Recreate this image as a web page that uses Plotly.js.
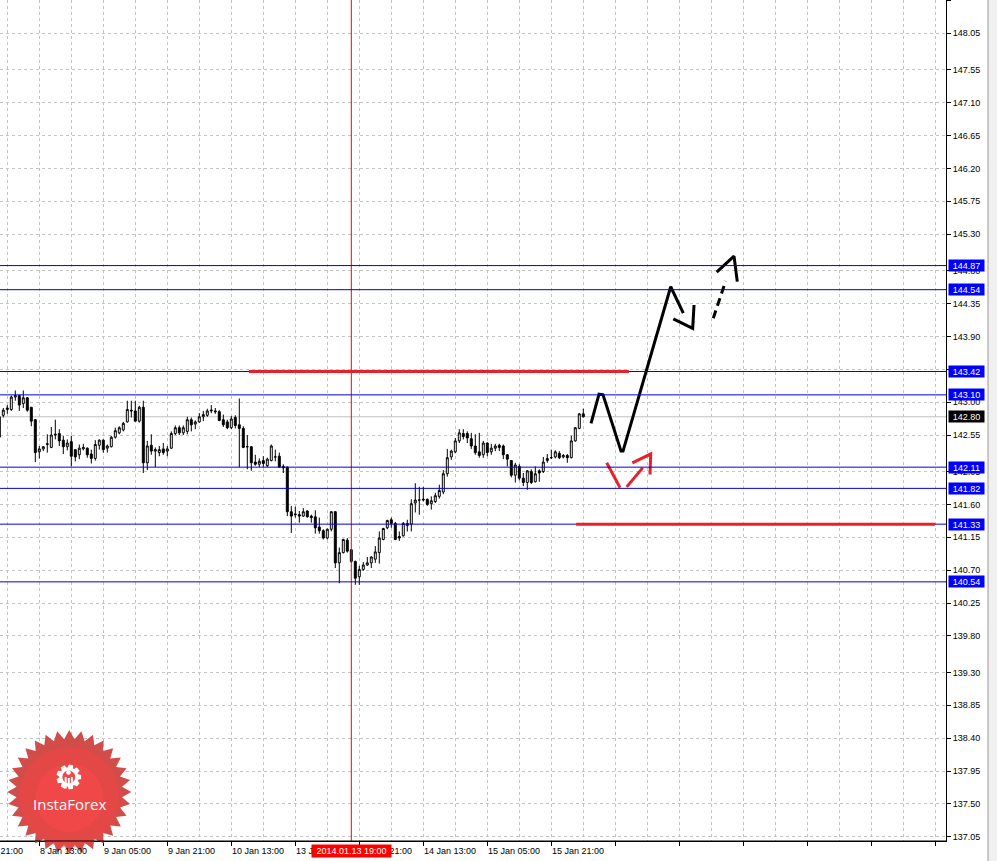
<!DOCTYPE html>
<html><head><meta charset="utf-8">
<script src="https://cdn.plot.ly/plotly-3.0.1.min.js"></script>
<style>html,body{margin:0;padding:0;background:#fff;}#chart{width:997px;height:861px;}</style>
</head><body><div id="chart"></div>
<script>
// ---- hourly candles (bar index 0 = 8 Jan 03:00) ----
const openP = [142.80,142.82,142.90,142.90,143.07,143.09,142.98,143.06,142.93,142.76,
142.32,142.36,142.42,142.38,142.55,142.57,142.48,142.39,142.46,142.35,
142.28,142.36,142.37,142.29,142.23,142.41,142.48,142.37,142.39,142.52,
142.58,142.62,142.73,142.89,142.88,142.74,142.93,142.17,142.41,142.33,
142.31,142.36,142.33,142.37,142.57,142.65,142.58,142.60,142.76,142.70,
142.73,142.80,142.82,142.88,142.88,142.87,142.76,142.73,142.65,142.79,
142.69,142.64,142.39,142.39,142.18,142.15,142.20,142.13,142.20,142.25,
142.26,142.12,142.11,141.50,141.47,141.46,141.44,141.51,141.44,141.43,
141.29,141.24,141.14,141.26,141.50,140.80,140.94,141.11,140.98,140.82,
140.61,140.71,140.77,140.80,140.85,140.94,141.12,141.28,141.39,141.34,
141.16,141.17,141.31,141.33,141.62,141.66,141.66,141.67,141.61,141.64,
141.71,141.77,142.02,142.25,142.32,142.47,142.57,142.57,142.50,142.40,
142.32,142.28,142.44,142.32,142.37,142.41,142.40,142.28,142.20,142.00,
142.12,141.96,141.90,142.05,141.91,142.06,142.05,142.20,142.24,142.25,
142.30,142.25,142.27,142.24,142.47,142.64,142.84];
const highP = [142.83,142.92,142.96,143.09,143.16,143.10,143.16,143.07,142.93,142.77,
142.40,142.40,142.56,142.66,142.76,142.63,142.54,142.49,142.54,142.35,
142.42,142.43,142.38,142.35,142.48,142.49,142.49,142.42,142.54,142.65,
142.67,142.73,143.02,143.02,143.02,142.95,143.02,142.47,142.56,142.38,
142.40,142.44,142.40,142.60,142.68,142.68,142.68,142.80,142.79,142.75,
142.85,142.88,142.91,142.96,142.92,142.89,142.83,142.76,142.81,142.82,
143.05,142.67,142.55,142.40,142.28,142.23,142.26,142.24,142.42,142.35,
142.31,142.15,142.12,141.58,141.57,141.51,141.55,141.52,141.46,141.52,
141.42,141.26,141.27,141.51,141.51,141.01,141.13,141.14,140.99,140.83,
140.76,140.81,140.88,140.89,141.03,141.23,141.28,141.39,141.42,141.36,
141.23,141.36,141.39,141.67,141.89,141.84,141.84,141.68,141.71,141.76,
141.87,142.07,142.36,142.35,142.51,142.63,142.63,142.60,142.58,142.56,
142.58,142.47,142.45,142.43,142.43,142.43,142.42,142.29,142.20,142.17,
142.15,142.03,142.07,142.08,142.12,142.08,142.25,142.29,142.35,142.34,
142.33,142.29,142.29,142.54,142.66,142.85,142.91];
const lowP = [142.49,142.79,142.84,142.88,143.02,142.88,142.92,142.87,142.67,142.18,
142.23,142.33,142.31,142.37,142.49,142.40,142.29,142.34,142.12,142.19,
142.22,142.34,142.24,142.16,142.20,142.35,142.31,142.31,142.38,142.50,
142.56,142.60,142.72,142.79,142.74,142.72,142.03,142.07,142.28,142.11,
142.26,142.28,142.26,142.36,142.55,142.55,142.55,142.56,142.60,142.63,
142.72,142.74,142.80,142.85,142.84,142.74,142.66,142.63,142.63,142.64,
142.11,142.37,142.08,142.06,142.13,142.11,142.11,142.11,142.19,142.19,
142.10,142.03,141.44,141.21,141.42,141.35,141.43,141.42,141.35,141.20,
141.20,141.12,141.12,141.23,140.73,140.52,140.93,140.94,140.80,140.50,
140.50,140.69,140.76,140.73,140.80,140.79,141.11,141.26,141.28,141.11,
141.10,141.16,141.23,141.23,141.49,141.46,141.64,141.58,141.53,141.62,
141.68,141.74,141.98,142.21,142.30,142.44,142.49,142.44,142.36,142.28,
142.24,142.24,142.26,142.28,142.33,142.33,142.22,142.12,141.97,141.90,
141.93,141.85,141.80,141.88,141.90,141.91,142.03,142.17,142.22,142.23,
142.22,142.23,142.17,142.23,142.46,142.63,142.79];
const closeP = [142.52,142.89,142.92,143.07,143.09,142.96,143.06,142.89,142.74,142.31,
142.36,142.39,142.43,142.55,142.56,142.47,142.39,142.44,142.26,142.25,
142.37,142.38,142.28,142.23,142.42,142.48,142.35,142.40,142.52,142.61,
142.65,142.71,142.90,142.88,142.74,142.93,142.17,142.40,142.33,142.35,
142.35,142.31,142.36,142.57,142.65,142.58,142.65,142.76,142.69,142.73,
142.80,142.83,142.88,142.89,142.87,142.75,142.69,142.65,142.77,142.68,
142.64,142.38,142.39,142.17,142.15,142.19,142.16,142.22,142.40,142.25,
142.11,142.10,141.50,141.44,141.46,141.44,141.50,141.43,141.42,141.28,
141.24,141.14,141.26,141.50,140.80,140.94,141.12,140.96,140.82,140.59,
140.71,140.77,140.80,140.88,140.95,141.14,141.27,141.38,141.34,141.12,
141.14,141.34,141.34,141.61,141.66,141.66,141.67,141.60,141.65,141.72,
141.79,142.02,142.24,142.33,142.47,142.58,142.53,142.51,142.40,142.31,
142.27,142.44,142.31,142.37,142.40,142.38,142.28,142.22,142.00,142.14,
141.96,141.90,142.06,141.90,142.02,142.03,142.18,142.23,142.24,142.32,
142.24,142.27,142.24,142.47,142.65,142.84,142.80];

// ---- axis labels ----
const xTickBars = [-6,10,26,42,58,74,90,106,122,138];
const xTickLabels = ["7 Jan 21:00","8 Jan 13:00","9 Jan 05:00","9 Jan 21:00","10 Jan 13:00","13 Jan 05:00","13 Jan 21:00","14 Jan 13:00","15 Jan 05:00","15 Jan 21:00"];
const yTickVals = [137.05,137.50,137.95,138.40,138.85,139.30,139.80,140.25,140.70,141.15,141.60,142.05,142.55,143.00,143.45,143.90,144.35,144.80,145.30,145.75,146.20,146.65,147.10,147.55,148.05,148.50];

// ---- drawn objects ----
const levelPrices = [144.87,144.54,143.42,143.10,142.11,141.82,141.33,140.54];
const bidPrice = 142.80;
const redLinePrices = [143.42,141.33];
const redLineStart = [62.4,144.2];
const redLineEnd = [157.4,233.9];
const crossBar = 88;
const crossLabel = "2014.01.13 19:00";

const blackPathBars   = [147.93,149.93,150.93,155.43,155.93,167.85,171.0,null,168.5,173.35,173.68];
const blackPathPrices = [142.71,143.11,143.10,142.33,142.33,144.58,144.22,null,144.14,144.01,144.33];
const dashPathBars    = [178.5,181.6];
const dashPathPrices  = [144.15,144.66];
const dashHeadBars    = [179.35,183.68,184.5];
const dashHeadPrices  = [144.78,145.00,144.65];
const redPathBars     = [151.85,155.18,null,156.85,160.85,null,158.25,162.85,162.68];
const redPathPrices   = [142.17,141.83,null,141.84,142.10,null,142.17,142.29,142.01];

// ---- geometry ----
const PW = 946, PH = 841;
const xr = [0.175, 236.675];
const yr = [136.992, 148.506];
const xPaper = b => (b - xr[0]) / (xr[1] - xr[0]);
const FONT = 'Liberation Sans, Arial, sans-serif';

const bars = openP.map((_, i) => i);

const traces = [
  {type:'candlestick', x:bars, open:openP, high:highP, low:lowP, close:closeP,
   increasing:{line:{color:'#000', width:1}, fillcolor:'#ffffff'},
   decreasing:{line:{color:'#000', width:1}, fillcolor:'#000000'},
   whiskerwidth:0, hoverinfo:'skip', showlegend:false},
  {type:'scatter', mode:'lines', x:blackPathBars, y:blackPathPrices, connectgaps:false,
   line:{color:'#000', width:3}, hoverinfo:'skip', showlegend:false},
  {type:'scatter', mode:'lines', x:dashPathBars, y:dashPathPrices,
   line:{color:'#000', width:3, dash:'8px,5px'}, hoverinfo:'skip', showlegend:false},
  {type:'scatter', mode:'lines', x:dashHeadBars, y:dashHeadPrices,
   line:{color:'#000', width:3}, hoverinfo:'skip', showlegend:false},
  {type:'scatter', mode:'lines', x:redPathBars, y:redPathPrices, connectgaps:false,
   line:{color:'#e8202a', width:3}, hoverinfo:'skip', showlegend:false}
];

const shapes = [];
// bid line
shapes.push({type:'line', xref:'paper', x0:0, x1:1, yref:'y', y0:bidPrice, y1:bidPrice,
  line:{color:'#c0c0c0', width:1}, layer:'between'});
// crosshair vertical
shapes.push({type:'line', xref:'x', x0:crossBar, x1:crossBar, yref:'paper', y0:0, y1:1,
  line:{color:'#d41010', width:1}, layer:'above'});
// blue levels
levelPrices.forEach(p => shapes.push({type:'line', xref:'paper', x0:0, x1:1, yref:'y', y0:p, y1:p,
  line:{color:'#0000d8', width:1}, layer:'above'}));
// red trend levels
redLinePrices.forEach((p, i) => shapes.push({type:'line', xref:'x', x0:redLineStart[i], x1:redLineEnd[i],
  yref:'y', y0:p, y1:p, line:{color:'#e8202a', width:3}, layer:'above'}));

// watermark star
function starPath(R, r, n) {
  let d = '';
  for (let i = 0; i < 2 * n; i++) {
    const a = Math.PI / 2 + i * Math.PI / n;
    const rad = i % 2 === 0 ? R : r;
    d += (i === 0 ? 'M' : 'L') + (rad * Math.cos(a)).toFixed(2) + ',' + (rad * Math.sin(a)).toFixed(2);
  }
  return d + 'Z';
}
function circlePath(cx, cy, r, ccw) {
  let d = '';
  const n = 36;
  for (let i = 0; i <= n; i++) {
    const a = (ccw ? -1 : 1) * i * 2 * Math.PI / n;
    d += (i === 0 ? 'M' : 'L') + (cx + r * Math.cos(a)).toFixed(2) + ',' + (cy + r * Math.sin(a)).toFixed(2);
  }
  return d + 'Z';
}
function gearPath(cx, cy, R, r, hole, n) {
  let d = '';
  for (let i = 0; i < n; i++) {
    const c = i * 2 * Math.PI / n;
    const pts = [[r, c - 0.30], [R, c - 0.17], [R, c + 0.17], [r, c + 0.30]];
    pts.forEach((p, k) => {
      d += ((i === 0 && k === 0) ? 'M' : 'L') + (cx + p[0] * Math.cos(p[1])).toFixed(2) + ',' + (cy + p[0] * Math.sin(p[1])).toFixed(2);
    });
  }
  d += 'Z';
  return d + circlePath(cx, cy, hole, true);
}
const starAnchorX = 69.3 / PW, starAnchorY = (PH - 792) / PH;
const pix = {xref:'paper', yref:'paper', xsizemode:'pixel', ysizemode:'pixel', xanchor:starAnchorX, yanchor:starAnchorY, layer:'above'};
shapes.push(Object.assign({type:'path', path:starPath(62, 53, 32), fillcolor:'#d24c4a', line:{width:0}}, pix));
shapes.push(Object.assign({type:'circle', x0:-50, x1:50, y0:-55, y1:45, fillcolor:'#f04646', opacity:0.55, line:{width:0}}, pix));
shapes.push(Object.assign({type:'circle', x0:-34, x1:34, y0:-40, y1:28, fillcolor:'#ff4a4a', opacity:0.45, line:{width:0}}, pix));
shapes.push(Object.assign({type:'path', path:gearPath(-0.5, 15, 12.5, 9.6, 6.4, 9), fillcolor:'#ffffff', line:{width:0}}, pix));
shapes.push(Object.assign({type:'circle', x0:-3.1, x1:1.5, y0:17.2, y1:21.8, fillcolor:'#ffffff', line:{width:0}}, pix));
shapes.push(Object.assign({type:'rect', x0:-4.6, x1:-2.6, y0:3.5, y1:15, fillcolor:'#ffffff', line:{width:0}}, pix));
shapes.push(Object.assign({type:'rect', x0:1.6, x1:3.6, y0:3.5, y1:15, fillcolor:'#ffffff', line:{width:0}}, pix));
shapes.push(Object.assign({type:'rect', x0:-1.5, x1:0.5, y0:8, y1:14, fillcolor:'#ffffff', line:{width:0}}, pix));
// redraw bottom axis line over watermark
shapes.push({type:'line', xref:'paper', x0:0, x1:1, yref:'paper', y0:0, y1:0, line:{color:'#000', width:1}, layer:'above'});
// window border on the right
shapes.push({type:'rect', xref:'paper', yref:'paper', x0:988 / PW, x1:1000 / PW, y0:-0.05, y1:1.01,
  fillcolor:'#f0f0f0', line:{width:0}, layer:'above'});
shapes.push({type:'line', xref:'paper', yref:'paper', x0:988 / PW, x1:988 / PW, y0:-0.05, y1:1.01,
  line:{color:'#9a9a9a', width:1}, layer:'above'});

const annotations = [];
xTickBars.forEach((b, i) => annotations.push({xref:'paper', x:xPaper(b), xanchor:'left', xshift:-1.5,
  yref:'paper', y:0, yanchor:'top', yshift:-3, text:xTickLabels[i], showarrow:false,
  font:{family:FONT, size:9, color:'#000'}}));
annotations.push({xref:'paper', x:xPaper(crossBar), xanchor:'center', yref:'paper', y:0, yanchor:'top', yshift:-3,
  text:crossLabel, showarrow:false, bgcolor:'#ff0000', width:79, height:12, borderpad:0,
  font:{family:FONT, size:9, color:'#fff'}});
levelPrices.forEach(p => annotations.push({xref:'paper', x:1, xanchor:'left', xshift:2, yref:'y', y:p, yanchor:'middle',
  text:p.toFixed(2), showarrow:false, bgcolor:'#0000ff', width:35, height:11, borderpad:0,
  font:{family:FONT, size:9, color:'#fff'}}));
annotations.push({xref:'paper', x:1, xanchor:'left', xshift:2, yref:'y', y:bidPrice, yanchor:'middle',
  text:bidPrice.toFixed(2), showarrow:false, bgcolor:'#000000', width:35, height:11, borderpad:0,
  font:{family:FONT, size:9, color:'#fff'}});
annotations.push({xref:'paper', x:69.8 / PW, xanchor:'center', yref:'paper', y:(PH - 804) / PH, yanchor:'middle',
  text:'InstaForex', showarrow:false, font:{family:'Open Sans, sans-serif', size:15, color:'#fff'}});

const gridColor = '#c4c4c4';
const layout = {
  width:997, height:861,
  margin:{l:0, r:51, t:0, b:20},
  paper_bgcolor:'#ffffff', plot_bgcolor:'#ffffff',
  showlegend:false, hovermode:false, dragmode:false,
  xaxis:{range:xr, type:'linear', rangeslider:{visible:false},
    tickmode:'linear', tick0:10, dtick:16, ticks:'outside', ticklen:4, tickcolor:'#000',
    showticklabels:false, showgrid:true, gridcolor:gridColor, griddash:'3px,3px', gridwidth:1,
    minor:{tickmode:'linear', tick0:2, dtick:8, showgrid:true, gridcolor:gridColor, griddash:'3px,3px', gridwidth:1, ticks:''},
    showline:true, linecolor:'#000', linewidth:1, zeroline:false, fixedrange:true},
  yaxis:{range:yr, side:'right', tickmode:'array', tickvals:yTickVals, ticktext:yTickVals.map(v => v.toFixed(2)),
    ticks:'outside', ticklen:4, tickcolor:'#000', tickfont:{family:FONT, size:9, color:'#000'},
    showgrid:true, gridcolor:gridColor, griddash:'3px,3px', gridwidth:1,
    showline:true, linecolor:'#000', linewidth:1, zeroline:false, fixedrange:true},
  shapes:shapes, annotations:annotations
};

Plotly.newPlot('chart', traces, layout, {staticPlot:true, displayModeBar:false});
</script></body></html>
